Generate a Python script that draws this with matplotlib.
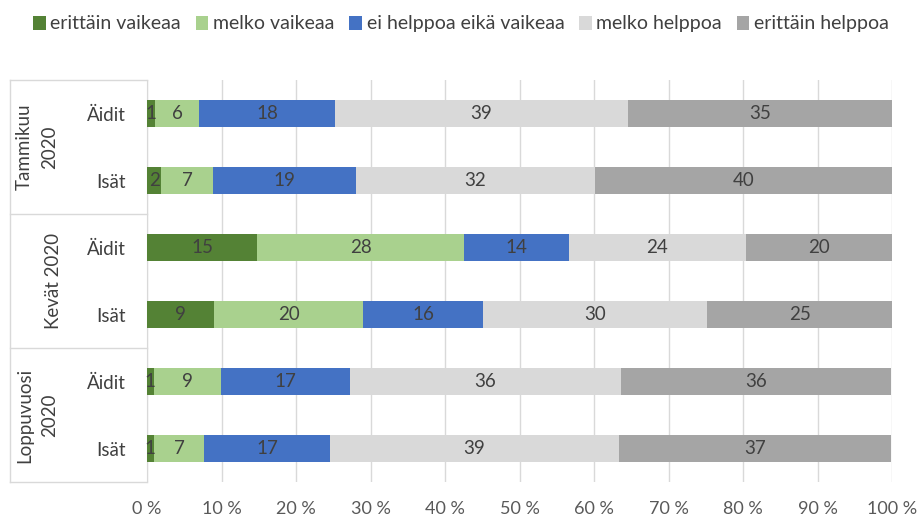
import matplotlib
matplotlib.use("Agg")
import matplotlib.pyplot as plt
import matplotlib.transforms as mtrans
import numpy as np

plt.rcParams['font.family'] = ['Lato', 'DejaVu Sans']

series = ["erittäin vaikeaa", "melko vaikeaa", "ei helppoa eikä vaikeaa", "melko helppoa", "erittäin helppoa"]
colors = ["#548235", "#A9D18E", "#4472C4", "#D9D9D9", "#A5A5A5"]
groups = ["Tammikuu\n2020", "Kevät 2020", "Loppuvuosi\n2020"]
subcats = ["Äidit", "Isät", "Äidit", "Isät", "Äidit", "Isät"]
# rows top to bottom
v_erittain_vaikeaa = [1.1, 1.9, 14.8, 9.0, 0.9, 0.9]
v_melko_vaikeaa = [5.9, 7.0, 27.8, 20.0, 9.0, 6.8]
v_ei_kumpikaan = [18.2, 19.1, 14.0, 16.1, 17.3, 16.9]
v_melko_helppoa = [39.4, 32.2, 23.8, 30.1, 36.4, 38.7]
v_erittain_helppoa = [35.4, 39.8, 19.6, 24.8, 36.3, 36.6]
data = [v_erittain_vaikeaa, v_melko_vaikeaa, v_ei_kumpikaan, v_melko_helppoa, v_erittain_helppoa]
xticks = list(range(0, 101, 10))
xticklabels = [f"{t} %" for t in xticks]

fig = plt.figure(figsize=(9.22, 5.2), dpi=100)
ax = fig.add_axes([147/922, 1-482/520, 745/922, 402/520])

n = len(subcats)
y = np.arange(n)
left = np.zeros(n)
for vals, col, name in zip(data, colors, series):
    vals = np.array(vals)
    ax.barh(y, vals, left=left, height=0.4, color=col, label=name, zorder=3)
    for yi, (l, v) in enumerate(zip(left, vals)):
        ax.text(l + v/2, yi, f"{v:.0f}", ha='center', va='center',
                fontsize=13.5, color='#404040', zorder=4)
    left += vals

ax.set_xlim(0, 100)
ax.set_ylim(n - 0.5, -0.5)
ax.set_xticks(xticks)
ax.set_xticklabels(xticklabels, fontsize=13, color='#595959')
ax.set_yticks(y)
ax.set_yticklabels(subcats, fontsize=13.5, color='#404040')
ax.tick_params(axis='both', length=0)
ax.tick_params(axis='y', pad=15)
ax.tick_params(axis='x', pad=14)
ax.grid(axis='x', color='#D9D9D9', linewidth=1, zorder=0)
for s in ['top', 'right', 'bottom']:
    ax.spines[s].set_visible(False)
ax.spines['left'].set_color('#D9D9D9')

# multi-level category separators
trans = mtrans.blended_transform_factory(ax.transAxes, ax.transData)
xl = (10 - 147) / 745
for yb in [-0.5, 1.5, 3.5, 5.5]:
    ax.plot([xl, 0], [yb, yb], transform=trans, color='#D9D9D9', lw=1, clip_on=False)
ax.plot([xl, xl], [-0.5, 5.5], transform=trans, color='#D9D9D9', lw=1, clip_on=False)

gx = [(37 - 147) / 745, (53 - 147) / 745, (37 - 147) / 745]
for gi, (g, x) in enumerate(zip(groups, gx)):
    ax.text(x, 2*gi + 0.5, g, transform=trans, rotation=90, ha='center', va='center',
            fontsize=13.5, color='#404040', multialignment='center', linespacing=1.55)

leg = ax.legend(loc='upper center', ncol=5,
                frameon=False, fontsize=14, handlelength=0.65, handleheight=0.75,
                handletextpad=0.25, columnspacing=0.75, labelcolor='#404040')
leg.set_bbox_to_anchor((461/922, 1 + 2/520), transform=fig.transFigure)

fig.savefig("out.png", dpi=100)
